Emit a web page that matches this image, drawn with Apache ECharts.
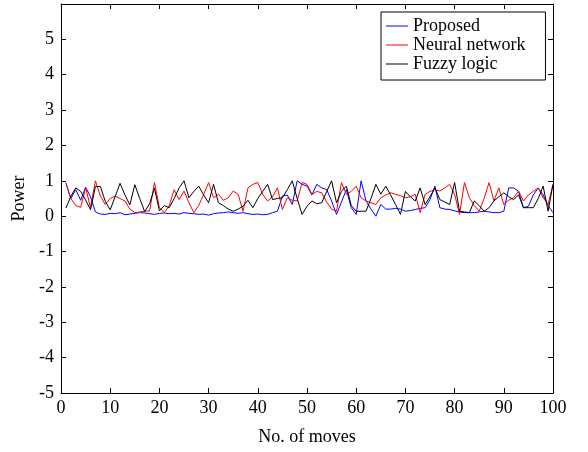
<!DOCTYPE html>
<html>
<head>
<meta charset="utf-8">
<script src="https://cdn.jsdelivr.net/npm/echarts@6/dist/echarts.min.js"></script>
<style>html,body{margin:0;padding:0;background:#fff}#c{width:588px;height:452px}</style>
</head>
<body>
<div id="c"></div>
<script>
const moves = Array.from({length: 100}, (_, i) => i + 1);
const seriesNames = ['Proposed', 'Neural network', 'Fuzzy logic'];
const proposed = [
  0.93,0.5,0.75,0.45,0.82,0.55,0.12,0.06,0.05,0.08,
  0.07,0.1,0.04,0.06,0.08,0.1,0.09,0.07,0.05,0.08,
  0.09,0.07,0.08,0.06,0.1,0.08,0.07,0.05,0.06,0.03,
  0.07,0.09,0.1,0.12,0.1,0.08,0.1,0.07,0.05,0.06,
  0.04,0.05,0.1,0.14,0.57,0.6,0.33,1.0,0.9,0.85,
  0.6,0.9,0.8,0.75,0.43,0.05,0.4,0.75,0.24,0.05,
  1.0,0.43,0.2,0.0,0.33,0.2,0.2,0.22,0.2,0.14,
  0.16,0.19,0.22,0.24,0.47,0.85,0.24,0.2,0.19,0.15,
  0.12,0.1,0.1,0.1,0.12,0.14,0.12,0.1,0.1,0.14,
  0.8,0.8,0.7,0.24,0.28,0.6,0.8,0.6,0.3,0.1
];
const neural = [
  0.95,0.5,0.3,0.25,0.8,0.25,1.0,0.57,0.33,0.5,
  0.57,0.5,0.43,0.2,0.1,0.12,0.14,0.15,0.95,0.24,
  0.1,0.3,0.75,0.47,0.71,0.38,0.1,0.3,0.62,0.95,
  0.52,0.62,0.45,0.52,0.71,0.62,0.14,0.8,0.9,0.95,
  0.62,0.43,0.55,0.8,0.19,0.52,0.45,0.43,0.95,0.9,
  0.62,0.7,0.66,0.4,0.2,0.14,0.95,0.62,0.7,0.85,
  0.52,0.43,0.38,0.33,0.52,0.6,0.66,0.62,0.58,0.52,
  0.55,0.62,0.1,0.62,0.7,0.75,0.71,0.8,0.9,0.62,
  0.05,0.95,0.52,0.3,0.14,0.5,0.95,0.43,0.8,0.33,
  0.45,0.52,0.71,0.43,0.6,0.7,0.8,0.52,0.33,0.9
];
const fuzzy = [
  0.23,0.56,0.8,0.7,0.46,0.18,0.84,0.84,0.42,0.18,
  0.55,0.93,0.6,0.32,0.89,0.5,0.13,0.35,0.79,0.15,
  0.3,0.24,0.5,0.8,1.0,0.52,0.7,0.85,0.6,0.38,
  0.9,0.38,0.3,0.2,0.14,0.2,0.28,0.45,0.24,0.5,
  0.7,0.9,0.47,0.5,0.52,0.75,1.0,0.5,0.05,0.28,
  0.43,0.35,0.38,0.7,1.0,0.38,0.7,0.85,0.3,0.14,
  0.14,0.14,0.5,0.9,0.62,0.85,0.6,0.33,0.05,0.7,
  0.55,0.43,0.8,0.33,0.55,0.8,0.47,0.4,0.33,0.95,
  0.14,0.12,0.1,0.43,0.3,0.14,0.24,0.43,0.55,0.66,
  0.55,0.47,0.6,0.24,0.24,0.24,0.5,0.85,0.14,0.9
];
const colors = ['#0000ff', '#ff0000', '#000000'];
const font = 'Liberation Serif';

function pairs(vals) { return moves.map((m, i) => [m, vals[i]]); }

const axisLine = {show: true, onZero: false, lineStyle: {color: '#000', width: 1}};
const tickIn = {show: true, inside: true, length: 5, lineStyle: {color: '#000'}};
const chart = echarts.init(document.getElementById('c'), null, {renderer: 'canvas'});
chart.setOption({
  animation: false,
  backgroundColor: '#fff',
  grid: {left: 61, right: 35, top: 4, bottom: 59},
  legend: {
    orient: 'vertical', left: 381, top: 12,
    data: seriesNames,
    icon: 'rect', itemWidth: 22, itemHeight: 1, itemGap: 1,
    padding: [5, 20, 7, 5],
    borderColor: '#000', borderWidth: 1, backgroundColor: '#fff',
    textStyle: {fontFamily: font, fontSize: 18, color: '#000', lineHeight: 18}
  },
  xAxis: [
    {type: 'value', min: 0, max: 100, interval: 10, position: 'bottom',
     axisLine: axisLine, axisTick: tickIn, splitLine: {show: false},
     axisLabel: {fontFamily: font, fontSize: 18, color: '#000', margin: 6},
     name: 'No. of moves', nameLocation: 'middle', nameGap: 35,
     nameTextStyle: {fontFamily: font, fontSize: 18, color: '#000'}},
    {type: 'value', min: 0, max: 100, interval: 10, position: 'top',
     axisLine: axisLine, axisTick: tickIn, splitLine: {show: false},
     axisLabel: {show: false}}
  ],
  yAxis: [
    {type: 'value', min: -5, max: 6, interval: 1, position: 'left',
     axisLine: axisLine, axisTick: tickIn, splitLine: {show: false},
     axisLabel: {fontFamily: font, fontSize: 18, color: '#000', margin: 7,
       formatter: v => v === 6 ? '' : String(v)},
     name: 'Power', nameLocation: 'middle', nameGap: 32,
     nameTextStyle: {fontFamily: font, fontSize: 18, color: '#000'}},
    {type: 'value', min: -5, max: 6, interval: 1, position: 'right',
     axisLine: axisLine, axisTick: tickIn, splitLine: {show: false},
     axisLabel: {show: false}}
  ],
  series: [
    {name: seriesNames[0], type: 'line', data: pairs(proposed), symbol: 'none',
     lineStyle: {color: colors[0], width: 1}, itemStyle: {color: colors[0]}},
    {name: seriesNames[1], type: 'line', data: pairs(neural), symbol: 'none',
     lineStyle: {color: colors[1], width: 1}, itemStyle: {color: colors[1]}},
    {name: seriesNames[2], type: 'line', data: pairs(fuzzy), symbol: 'none',
     lineStyle: {color: colors[2], width: 1}, itemStyle: {color: colors[2]}}
  ]
});
</script>
</body>
</html>
